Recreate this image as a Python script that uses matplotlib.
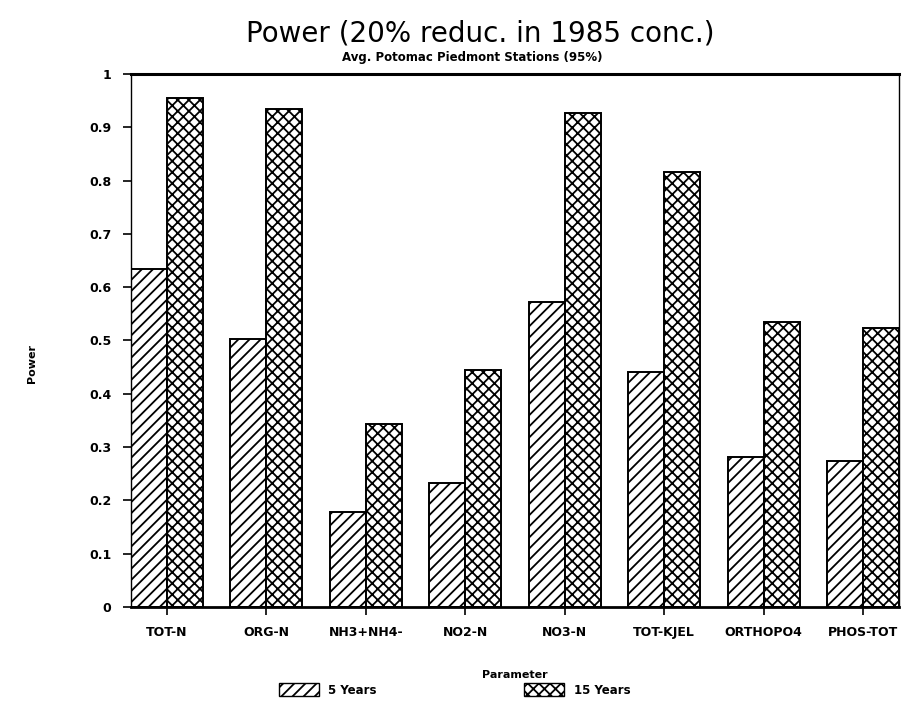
import numpy as np
import matplotlib.pyplot as plt
from matplotlib.patches import Patch

# values
params = ['TOT-N', 'ORG-N', 'NH3+NH4-', 'NO2-N', 'NO3-N', 'TOT-KJEL', 'ORTHOPO4', 'PHOS-TOT']
power_5yr = [0.634, 0.503, 0.178, 0.233, 0.572, 0.441, 0.281, 0.274]
power_15yr = [0.955, 0.934, 0.343, 0.445, 0.927, 0.816, 0.535, 0.523]
yticks = [0, 0.1, 0.2, 0.3, 0.4, 0.5, 0.6, 0.7, 0.8, 0.9, 1]
ytick_labels = ['0', '0.1', '0.2', '0.3', '0.4', '0.5', '0.6', '0.7', '0.8', '0.9', '1']

plt.rcParams['hatch.linewidth'] = 1.3

fig = plt.figure(figsize=(9.09, 7.04), dpi=100)
ax = fig.add_axes([0.1441, 0.1378, 0.8449, 0.7571])

x = np.arange(len(params))
w = 0.36
ax.bar(x - w / 2, power_5yr, w, facecolor='white', edgecolor='black',
       hatch='///', linewidth=1.4)
ax.bar(x + w / 2, power_15yr, w, facecolor='white', edgecolor='black',
       hatch='xxx', linewidth=1.4)

ax.set_xlim(-0.36, 7.36)
ax.set_ylim(0, 1)
ax.set_xticks(x)
ax.set_xticklabels(params, fontsize=9, fontweight='bold')
ax.set_yticks(yticks)
ax.set_yticklabels(ytick_labels, fontsize=9, fontweight='bold')
ax.tick_params(axis='both', direction='out', length=6, width=1.2, pad=8)

ax.spines['top'].set_linewidth(2.2)
ax.spines['bottom'].set_linewidth(2.0)
ax.spines['left'].set_linewidth(1.0)
ax.spines['right'].set_linewidth(1.0)

ax.set_xlabel('Parameter', fontsize=8, fontweight='bold', labelpad=22)
fig.text(0.035, 0.483, 'Power', rotation=90, ha='center', va='center',
         fontsize=8, fontweight='bold')

fig.text(0.528, 0.953, 'Power (20% reduc. in 1985 conc.)', ha='center', va='center',
         fontsize=20)
fig.text(0.52, 0.918, 'Avg. Potomac Piedmont Stations (95%)', ha='center', va='center',
         fontsize=8.5, fontweight='bold')

handles = [Patch(facecolor='white', edgecolor='black', hatch='///', label='5 Years'),
           Patch(facecolor='white', edgecolor='black', hatch='xxx', label='15 Years')]
fig.legend(handles=handles, loc='center', bbox_to_anchor=(0.5, 0.02), ncol=2,
           frameon=False, columnspacing=12.5, handlelength=3.4, handleheight=1.3,
           prop={'size': 8.5, 'weight': 'bold'})

fig.savefig('out.png', dpi=100)
